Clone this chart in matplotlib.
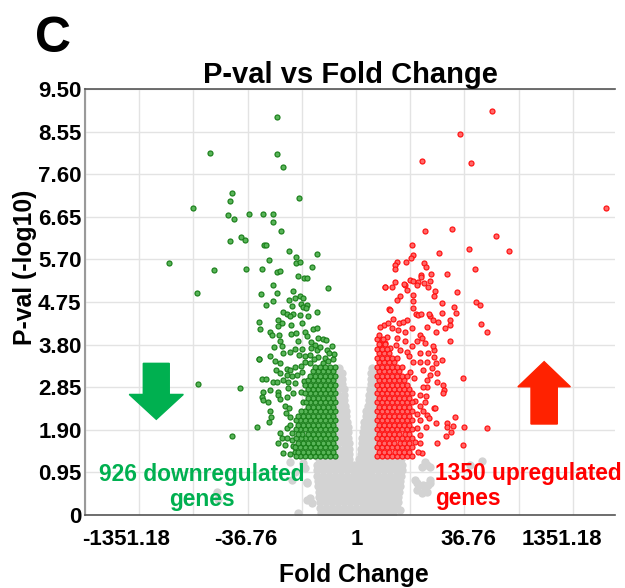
import matplotlib
matplotlib.use("Agg")
import matplotlib.pyplot as plt
from matplotlib.patches import FancyArrow
from matplotlib.ticker import FixedLocator

plt.rcParams['font.family'] = ['Liberation Sans', 'DejaVu Sans']
plt.rcParams['font.weight'] = 'bold'

# x = signed log2 fold change, y = -log10 p-value

# downregulated genes, scattered part
down_pts = [
    (-3.77, 8.88), (-7.02, 8.08), (-3.77, 8.06), (-3.50, 7.77), (-5.95, 7.19), (-6.03, 7.01), (-2.73, 7.08),
    (-7.83, 6.84), (-6.12, 6.69), (-5.87, 6.61), (-5.13, 6.72), (-4.45, 6.71), (-3.97, 6.71), (-3.97, 6.54),
    (-3.60, 6.34), (-5.53, 6.20), (-5.31, 6.14), (-6.04, 6.11), (-4.40, 6.03), (-4.30, 6.03), (-3.21, 5.88),
    (-2.86, 5.76), (-1.88, 5.82), (-4.16, 5.69), (-2.86, 5.62), (-2.69, 5.64), (-2.10, 5.54), (-6.81, 5.47),
    (-5.26, 5.49), (-4.49, 5.49), (-3.77, 5.42), (-3.63, 5.45), (-2.78, 5.33), (-2.48, 5.28), (-2.35, 5.28),
    (-1.33, 5.07), (-3.97, 5.12), (-7.61, 4.95), (-4.54, 4.93), (-3.77, 4.95), (-3.04, 5.00), (-2.69, 4.89),
    (-2.91, 4.85), (-2.53, 4.83), (-3.23, 4.80), (-8.98, 5.61), (-7.56, 2.92), (-5.56, 2.83), (-5.93, 1.76),
    (-4.67, 3.49), (-4.12, 3.55),
    (-4.32, 4.68), (-4.00, 4.78), (-3.08, 4.67), (-2.64, 4.70), (-2.34, 4.69), (-2.53, 4.64), (-2.40, 4.61),
    (-3.49, 4.52), (-3.32, 4.48), (-3.01, 4.48), (-3.17, 4.43), (-2.69, 4.46), (-2.32, 4.43), (-1.88, 4.52),
    (-4.64, 4.31), (-3.73, 4.35), (-3.56, 4.28), (-3.12, 4.24), (-2.60, 4.28), (-3.76, 4.22), (-4.60, 4.14),
    (-4.12, 4.08), (-4.04, 4.02), (-3.68, 4.02), (-3.13, 4.04), (-2.88, 4.05), (-2.45, 4.08), (-2.05, 4.14),
    (-1.88, 4.17), (-2.36, 3.99), (-1.81, 3.94), (-1.57, 3.92), (-1.45, 3.91), (-2.77, 3.87), (-2.16, 3.85),
    (-1.97, 3.79), (-3.65, 3.87), (-3.92, 3.74), (-3.56, 3.76), (-2.93, 3.70), (-2.60, 3.70), (-2.17, 3.72),
    (-1.88, 3.68), (-1.73, 3.74), (-1.41, 3.67), (-1.17, 3.77), (-3.49, 3.61), (-3.17, 3.64), (-2.73, 3.57),
    (-2.45, 3.55), (-2.21, 3.57), (-1.81, 3.53), (-1.49, 3.50), (-1.09, 3.48), (-4.65, 3.48), (-3.88, 3.44),
    (-3.65, 3.39), (-3.32, 3.25), (-3.17, 3.24), (-2.93, 3.30), (-2.64, 3.33), (-3.82, 3.24), (-3.65, 3.16),
    (-3.32, 3.12), (-3.08, 3.09), (-2.84, 3.12), (-4.52, 3.03), (-4.32, 3.03), (-4.00, 2.97), (-3.80, 2.97),
    (-3.49, 3.01), (-3.25, 2.97), (-2.93, 2.94), (-4.45, 2.75), (-4.12, 2.79), (-3.73, 2.75), (-3.25, 2.83),
    (-3.01, 2.72), (-4.52, 2.64), (-4.45, 2.57), (-4.21, 2.53), (-3.73, 2.68), (-3.65, 2.58), (-3.32, 2.64),
    (-3.41, 2.42), (-3.20, 2.38), (-3.36, 2.27), (-3.17, 2.19), (-4.12, 2.31), (-4.09, 2.18), (-4.16, 2.08),
    (-4.75, 1.97), (-3.32, 1.93), (-3.17, 2.01), (-3.65, 1.82), (-3.08, 1.82), (-3.56, 1.71), (-3.32, 1.71),
    (-3.08, 1.67), (-3.73, 1.60), (-3.41, 1.56), (-3.01, 1.54), (-3.49, 1.38), (-3.17, 1.35), (-2.93, 1.41),
    (-2.55, 2.52), (-2.62, 2.75), (-2.50, 2.98), (-2.58, 3.18), (-2.44, 3.42), (-2.20, 3.40), (-1.33, 3.43),
    (-1.60, 3.40), (-1.05, 3.58), (-1.30, 3.62), (-2.02, 3.48),
]

# downregulated genes, dense part near the cut-offs: (y, [x values])
down_core = [
    (1.31, [-1.00, -1.23, -1.47, -1.72, -1.95, -2.19, -2.44, -2.67, -2.90]),
    (1.41, [-1.11, -1.35, -1.60, -1.83, -2.07, -2.31, -2.56, -2.80]),
    (1.51, [-1.00, -1.24, -1.48, -1.71, -1.96, -2.20, -2.43, -2.68, -2.91]),
    (1.61, [-1.12, -1.36, -1.59, -1.84, -2.08, -2.32, -2.55, -2.79]),
    (1.71, [-1.00, -1.23, -1.47, -1.72, -1.95, -2.20, -2.44, -2.66, -2.90]),
    (1.81, [-1.11, -1.35, -1.60, -1.83, -2.07, -2.31, -2.57, -2.80]),
    (1.91, [-1.00, -1.24, -1.48, -1.71, -1.96, -2.19, -2.43, -2.68, -2.88]),
    (2.01, [-1.12, -1.36, -1.59, -1.84, -2.08, -2.32, -2.56, -2.79]),
    (2.11, [-1.00, -1.23, -1.47, -1.72, -1.95, -2.20, -2.44, -2.67, -2.89]),
    (2.21, [-1.11, -1.35, -1.60, -1.83, -2.07, -2.31, -2.55, -2.80]),
    (2.31, [-1.00, -1.24, -1.48, -1.71, -1.96, -2.19, -2.43, -2.66]),
    (2.41, [-1.12, -1.36, -1.59, -1.84, -2.08, -2.32]),
    (2.51, [-1.00, -1.23, -1.47, -1.72, -1.95, -2.20, -2.42]),
    (2.61, [-1.11, -1.35, -1.60, -1.83, -2.07, -2.31]),
    (2.71, [-1.00, -1.24, -1.48, -1.71, -1.96, -2.19, -2.44]),
    (2.81, [-1.12, -1.36, -1.59, -1.84, -2.08, -2.32]),
    (2.91, [-1.00, -1.23, -1.47, -1.72, -1.95, -2.20, -2.43]),
    (3.01, [-1.11, -1.35, -1.60, -1.83, -2.07, -2.31]),
    (3.11, [-1.00, -1.24, -1.48, -1.71, -1.96, -2.19]),
    (3.21, [-1.12, -1.36, -1.59, -1.84, -2.08]),
    (3.31, [-1.00, -1.23, -1.47, -1.72, -1.95]),
]

# upregulated genes, scattered part
up_pts = [
    (6.51, 9.01), (5.00, 8.50), (3.17, 7.89), (5.53, 7.84), (11.99, 6.85), (3.30, 6.34), (4.62, 6.37),
    (6.71, 6.23), (7.32, 5.89), (5.43, 5.94), (3.98, 5.84), (2.70, 6.03), (2.73, 5.80), (2.65, 5.74),
    (1.97, 5.65), (2.40, 5.64), (1.88, 5.57), (1.88, 5.49), (3.25, 5.61), (3.37, 5.52), (5.69, 5.49),
    (3.60, 5.38), (4.36, 5.37), (3.13, 5.35), (3.13, 5.30), (2.60, 5.25), (2.72, 5.22), (2.97, 5.20),
    (2.94, 5.14), (3.26, 5.18), (3.55, 5.22), (1.88, 5.20), (2.35, 5.13), (1.41, 5.08), (1.71, 5.08),
    (3.77, 5.00), (3.73, 4.89), (4.83, 4.98), (2.10, 4.89), (1.97, 4.79), (2.73, 4.78), (4.11, 4.72),
    (5.77, 4.76), (5.96, 4.69), (1.58, 4.59), (2.73, 4.62), (4.71, 4.63),
    (6.00, 4.26), (6.30, 4.07), (5.15, 3.05), (5.18, 1.97), (6.30, 1.95), (5.15, 1.55), (4.75, 2.18),
    (4.35, 2.06), (4.38, 1.97), (4.67, 1.99), (4.32, 1.76), (4.56, 1.86), (3.87, 1.60), (3.82, 2.06),
    (4.19, 2.89), (4.22, 2.79), (3.90, 2.97), (3.76, 2.39), (4.14, 3.46), (3.74, 3.53), (3.76, 3.68),
    (3.82, 3.39), (3.87, 3.16), (3.39, 2.86), (3.36, 2.66), (3.42, 2.23), (3.52, 2.16), (3.36, 1.97),
    (3.07, 1.79), (3.07, 1.60), (3.15, 1.38), (2.96, 1.41), (4.51, 3.87), (4.27, 4.17), (4.51, 4.24),
    (4.78, 4.50), (4.11, 4.50), (4.51, 4.35), (3.92, 4.31), (3.55, 4.43), (3.71, 4.35), (3.42, 4.20),
    (3.84, 4.09), (3.52, 4.48), (3.44, 5.09), (2.88, 4.48), (2.99, 4.46), (3.12, 4.49), (2.43, 4.35),
    (2.08, 4.29), (2.27, 4.31), (1.79, 4.37), (1.63, 4.57), (1.34, 4.24), (1.15, 4.20), (1.55, 4.28),
    (1.71, 4.17), (2.03, 4.13), (2.35, 4.09), (2.67, 4.17), (3.07, 4.02), (3.15, 3.94), (2.91, 3.87),
    (3.31, 3.83), (3.71, 3.76), (2.67, 3.76), (2.35, 3.87), (1.95, 3.94), (1.47, 3.98), (1.23, 3.91),
    (1.39, 3.83), (1.15, 3.76), (1.63, 3.72), (2.11, 3.68), (2.43, 3.64), (3.07, 3.61), (3.47, 3.61),
    (3.39, 3.42), (3.07, 3.42), (2.75, 3.42), (3.63, 3.27), (3.23, 3.24), (3.55, 3.12), (3.39, 3.01),
    (3.23, 2.86), (3.07, 2.68), (3.31, 2.53), (3.07, 2.42), (3.23, 2.31), (3.07, 2.12), (2.91, 1.93),
    (1.39, 5.09), (2.32, 5.16), (2.75, 4.91), (2.43, 5.02), (4.19, 2.72), (3.79, 2.38),
    (2.85, 2.55), (2.80, 3.05), (2.90, 2.25), (2.82, 1.62), (2.60, 3.20), (2.52, 3.55), (1.90, 3.80),
]

# upregulated genes, dense part
up_core = [
    (1.31, [1.00, 1.24, 1.47, 1.72, 1.96, 2.21, 2.44, 2.68]),
    (1.41, [1.12, 1.36, 1.60, 1.85, 2.08, 2.32, 2.56]),
    (1.51, [1.00, 1.23, 1.48, 1.71, 1.96, 2.20, 2.45, 2.67]),
    (1.61, [1.12, 1.35, 1.60, 1.84, 2.09, 2.32, 2.55]),
    (1.71, [1.00, 1.24, 1.47, 1.72, 1.95, 2.21, 2.44, 2.68]),
    (1.81, [1.11, 1.36, 1.59, 1.84, 2.08, 2.33, 2.56]),
    (1.91, [1.00, 1.24, 1.48, 1.72, 1.96, 2.20, 2.43, 2.66]),
    (2.01, [1.12, 1.35, 1.60, 1.83, 2.08, 2.31, 2.56]),
    (2.11, [1.00, 1.23, 1.47, 1.72, 1.96, 2.21, 2.44, 2.68]),
    (2.21, [1.12, 1.36, 1.60, 1.84, 2.07, 2.32, 2.55]),
    (2.31, [1.00, 1.24, 1.48, 1.71, 1.96, 2.20, 2.45, 2.67]),
    (2.41, [1.11, 1.35, 1.60, 1.84, 2.08, 2.32, 2.56]),
    (2.51, [1.00, 1.24, 1.47, 1.72, 1.95, 2.20, 2.44, 2.68]),
    (2.61, [1.12, 1.36, 1.59, 1.84, 2.08, 2.31, 2.55]),
    (2.71, [1.00, 1.23, 1.48, 1.72, 1.96, 2.21, 2.43, 2.66]),
    (2.81, [1.12, 1.36, 1.60, 1.83, 2.08, 2.32, 2.56]),
    (2.91, [1.00, 1.24, 1.47, 1.72, 1.96, 2.20, 2.44]),
    (3.01, [1.11, 1.35, 1.60, 1.84, 2.08, 2.32]),
    (3.11, [1.00, 1.24, 1.48, 1.71, 1.96, 2.20, 2.45]),
    (3.21, [1.12, 1.36, 1.60, 1.84, 2.08]),
    (3.31, [1.00, 1.24, 1.47, 1.72, 1.95, 2.21]),
    (3.41, [1.12, 1.35, 1.60, 1.84]),
    (3.51, [1.00, 1.24, 1.48, 1.72, 1.98]),
    (3.61, [1.12, 1.36, 1.60]),
    (3.71, [1.00, 1.26, 1.50]),
    (3.81, [1.12, 1.38]),
    (3.92, [1.00, 1.28]),
    (4.02, [1.10]),
]

# not significant genes, the main cloud
ns_core = [
    (0.04, [-1.68, -1.40, -1.11, -0.82, -0.53, -0.24, 0.05, 0.34, 0.63, 0.92, 1.21, 1.50, 1.79]),
    (0.16, [-1.75, -1.46, -1.17, -0.88, -0.59, -0.30, -0.01, 0.28, 0.57, 0.86, 1.15, 1.44, 1.73, 1.95]),
    (0.28, [-1.72, -1.43, -1.14, -0.85, -0.56, -0.27, 0.02, 0.31, 0.60, 0.89, 1.18, 1.47, 1.76, 2.00]),
    (0.40, [-1.78, -1.49, -1.20, -0.91, -0.62, -0.33, -0.04, 0.25, 0.54, 0.83, 1.12, 1.41, 1.70, 1.99]),
    (0.52, [-1.80, -1.51, -1.22, -0.93, -0.64, -0.35, -0.06, 0.23, 0.52, 0.81, 1.10, 1.39, 1.68, 1.97, 2.08]),
    (0.64, [-1.84, -1.55, -1.26, -0.97, -0.68, -0.39, -0.10, 0.19, 0.48, 0.77, 1.06, 1.35, 1.64, 1.93, 2.10]),
    (0.76, [-1.82, -1.53, -1.24, -0.95, -0.66, -0.37, -0.08, 0.21, 0.50, 0.79, 1.08, 1.37, 1.66, 1.95, 2.12]),
    (0.88, [-1.86, -1.57, -1.28, -0.99, -0.70, -0.41, -0.12, 0.17, 0.46, 0.75, 1.04, 1.33, 1.62, 1.91, 2.15]),
    (1.00, [-1.87, -1.58, -1.29, -1.00, -0.71, -0.42, -0.13, 0.16, 0.45, 0.74, 1.03, 1.32, 1.61, 1.90, 2.19]),
    (1.12, [-1.85, -1.56, -1.27, -0.98, -0.69, -0.40, -0.11, 0.18, 0.47, 0.76, 1.05, 1.34, 1.63, 1.92, 2.21]),
    (1.24, [-1.80, -1.51, -1.22, -0.93, -0.64, -0.35, 0.14, 0.43, 0.72, 1.01, 1.30, 1.59, 1.88, 2.17]),
    (1.36, [-0.85, -0.60, -0.33, 0.25, 0.50, 0.78]),
    (1.48, [-0.85, -0.60, -0.33, 0.25, 0.50, 0.78]),
    (1.60, [-0.85, -0.60, -0.35, 0.27, 0.52, 0.80]),
    (1.72, [-0.85, -0.61, -0.37, 0.30, 0.55, 0.80]),
    (1.84, [-0.85, -0.62, -0.38, 0.35, 0.60, 0.82]),
    (1.96, [-0.85, -0.62, -0.40, 0.37, 0.60, 0.82]),
    (2.08, [-0.85, -0.63, -0.42, 0.40, 0.62, 0.84]),
    (2.20, [-0.85, -0.65, -0.47, 0.48, 0.70, 0.85]),
    (2.32, [-0.85, -0.65, -0.49, 0.50, 0.70, 0.85]),
    (2.44, [-0.85, -0.66, -0.52, 0.55, 0.72, 0.86]),
    (2.56, [-0.85, -0.58, 0.62, 0.85]),
    (2.68, [-0.85, -0.58, 0.64, 0.85]),
    (2.80, [-0.85, -0.60, 0.66, 0.86]),
    (2.92, [-0.84, -0.67, 0.70, 0.86]),
    (3.04, [-0.84, -0.67, 0.70, 0.86]),
    (3.16, [-0.84, -0.68, 0.72, 0.86]),
    (3.28, [-0.83, 0.76]),
]

# not significant genes, stragglers around the cloud
ns_pts = [
    (-2.54, 1.16), (-2.36, 0.74), (-2.21, 0.37), (-2.77, 0.04), (-2.36, 0.33), (-3.17, 1.19), (-2.93, 0.97),
    (-3.08, 0.78), (-6.68, 0.52), (-6.60, 0.35), (3.31, 1.19), (3.55, 1.08), (2.91, 0.56), (3.15, 0.48),
    (3.31, 0.60), (3.55, 0.78), (2.83, 0.78), (2.11, 0.11), (2.91, 0.71), (6.03, 1.21), (5.47, 1.12),
    (3.15, 1.08), (3.39, 1.12), (3.23, 0.67), (3.47, 0.67), (3.39, 0.52), (-2.45, 1.04), (-2.12, 0.26),
    (-2.36, 0.71), (3.55, 0.71),
]

y_ticks = [0, 0.95, 1.90, 2.85, 3.80, 4.75, 5.70, 6.65, 7.60, 8.55, 9.50]
y_tick_labels = ["0", "0.95", "1.90", "2.85", "3.80", "4.75", "5.70", "6.65", "7.60", "8.55", "9.50"]
x_tick_labels = ["-1351.18", "-36.76", "1", "36.76", "1351.18"]
n_down = 926
n_up = 1350


def unpack(pts, rows):
    xs = [p[0] for p in pts]
    ys = [p[1] for p in pts]
    for y, row in rows:
        xs += row
        ys += [y] * len(row)
    return xs, ys


GREEN = '#00b050'
RED = '#ff0000'

fig = plt.figure(figsize=(6.25, 5.88), dpi=100)
ax = fig.add_axes([85 / 625, 1 - 515 / 588, 530 / 625, 426 / 588])

nx, ny = unpack(ns_pts, ns_core)
ax.scatter(nx, ny, s=36, c='#d3d3d3', linewidths=0, zorder=2)
dx, dy = unpack(down_pts, down_core)
ax.scatter(dx, dy, s=13, c='#58b458', edgecolors='#1a7f1a', linewidths=0.85, zorder=3)
ux, uy = unpack(up_pts, up_core)
ax.scatter(ux, uy, s=13, c='#ff6868', edgecolors='#ff1010', linewidths=0.85, zorder=3)

ax.set_xlim(-13.0, 12.42)
ax.set_ylim(0, 9.5)

# grid every 2.6 log2 units (one grid step = fold change 6.06)
ax.xaxis.set_minor_locator(FixedLocator([k * 2.6 for k in range(-5, 5)]))
ax.set_xticks([-11.03, -5.28, 0.05, 5.37, 9.88])
ax.set_xticklabels(x_tick_labels)
ax.set_yticks(y_ticks)
ax.set_yticklabels(y_tick_labels)
ax.grid(True, which='minor', axis='x', color='#e3e3e3', lw=1.0, zorder=0)
ax.grid(True, which='major', axis='y', color='#e3e3e3', lw=1.0, zorder=0)
ax.set_axisbelow(True)
ax.tick_params(axis='both', which='both', length=0, labelsize=16)
ax.tick_params(axis='x', pad=10)
ax.tick_params(axis='y', pad=2.5)

for side in ['top', 'bottom']:
    ax.spines[side].set_color('#555555')
    ax.spines[side].set_linewidth(1.2)
ax.spines['left'].set_color('#9a9a9a')
ax.spines['left'].set_linewidth(1.5)
ax.spines['right'].set_visible(False)

ax.set_title("P-val vs Fold Change", fontsize=21, fontweight='bold', pad=3)
fig.text(35 / 625, 1 - 16 / 588, "C", fontsize=36, fontweight='bold', ha='left', va='top')
fig.text(25 / 625, 1 - 267.5 / 588, "P-val (-log10)", rotation=90, ha='center', va='center',
         fontsize=17.8, fontweight='bold')
fig.text(354 / 625, 6 / 588, "Fold Change", ha='center', va='baseline', fontsize=17.8, fontweight='bold')

ax.text(0.2208, 0.0805, f"{n_down} downregulated", color=GREEN, fontsize=16.4, fontweight='bold',
        ha='center', va='baseline', transform=ax.transAxes, zorder=5)
ax.text(0.2208, 0.0211, "genes", color=GREEN, fontsize=16.4, fontweight='bold',
        ha='center', va='baseline', transform=ax.transAxes, zorder=5)
ax.text(0.6604, 0.0822, f"{n_up} upregulated", color=RED, fontsize=16.4, fontweight='bold',
        ha='left', va='baseline', transform=ax.transAxes, zorder=5, clip_on=False)
ax.text(0.6604, 0.0235, "genes", color=RED, fontsize=16.4, fontweight='bold',
        ha='left', va='baseline', transform=ax.transAxes, zorder=5)

# direction arrows
ax.add_patch(FancyArrow(0.1345, 0.356, 0, -0.1314, width=0.049, head_width=0.102, head_length=0.0584,
                        length_includes_head=True, color=GREEN, transform=ax.transAxes, zorder=4))
ax.add_patch(FancyArrow(0.8663, 0.2136, 0, 0.1464, width=0.0496, head_width=0.099, head_length=0.059,
                        length_includes_head=True, color='#ff2200', transform=ax.transAxes, zorder=4))

fig.savefig('out.png', dpi=100)
